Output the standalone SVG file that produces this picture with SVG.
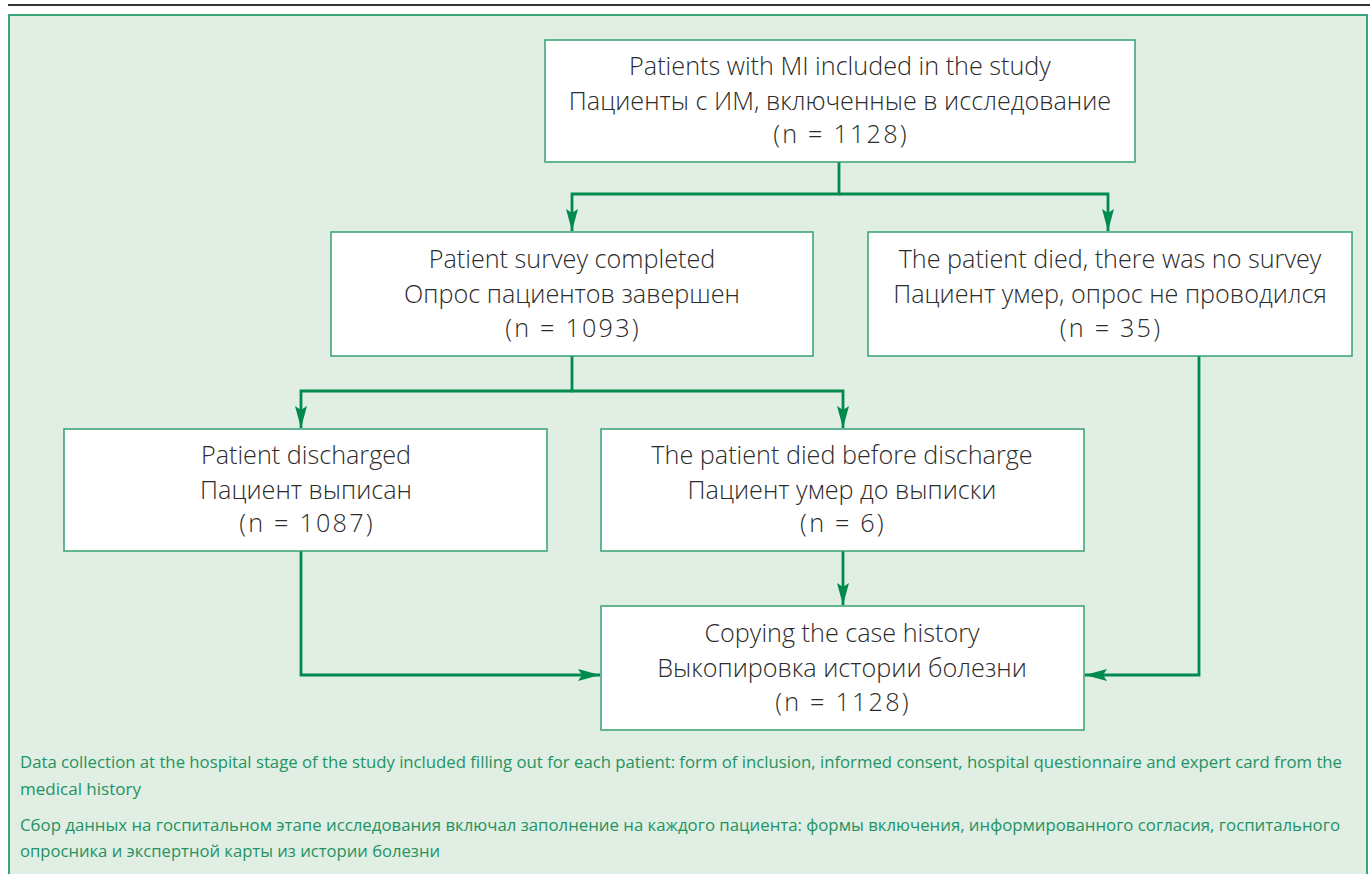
<svg xmlns="http://www.w3.org/2000/svg" width="1370" height="874" viewBox="0 0 1370 874">
<defs>
<style>
.box{fill:#ffffff;stroke:#35a070;stroke-width:1.5}
.t{font-family:"Open Sans","Liberation Sans",sans-serif;font-weight:300;font-size:25.2px;fill:#2b2b2b;text-anchor:middle}
.n{letter-spacing:2.2px}
.c{fill:none;stroke:#008a4e;stroke-width:2.8}
.f{font-family:"Open Sans","Liberation Sans",sans-serif;font-size:16px;fill:#1f9362}
</style>
<marker id="ah" viewBox="0 0 22 12" refX="22" refY="6" markerWidth="22" markerHeight="12" markerUnits="userSpaceOnUse" orient="auto">
<path d="M0,0 L22,6 L0,12 L4,6 Z" fill="#008a4e"/>
</marker>
</defs>
<rect width="1370" height="874" fill="#ffffff"/>
<line x1="8" y1="5" x2="1370" y2="5" stroke="#333" stroke-width="2"/>
<rect x="9" y="15" width="1358" height="870" fill="#e0eee4" stroke="#3aa577" stroke-width="2"/>

<g id="connectors">
<path class="c" d="M839,162 V194 H572 V231" marker-end="url(#ah)"/>
<path class="c" d="M839,194 H1108 V231" marker-end="url(#ah)"/>
<path class="c" d="M572,356 V391 H301 V428" marker-end="url(#ah)"/>
<path class="c" d="M572,391 H843 V428" marker-end="url(#ah)"/>
<path class="c" d="M843,551 V605" marker-end="url(#ah)"/>
<path class="c" d="M301,551 V675 H600" marker-end="url(#ah)"/>
<path class="c" d="M1199,356 V675 H1085" marker-end="url(#ah)"/>
</g>

<g id="n1">
<rect class="box" x="545" y="40" width="590" height="122"/>
<text class="t" x="840" y="75">Patients with MI included in the study</text>
<text class="t" x="840" y="110">Пациенты с ИМ, включенные в исследование</text>
<text class="t n" x="841" y="143">(n = 1128)</text>
</g>
<g id="n2">
<rect class="box" x="331" y="232" width="482" height="124"/>
<text class="t" x="572" y="268">Patient survey completed</text>
<text class="t" x="572" y="303">Опрос пациентов завершен</text>
<text class="t n" x="573" y="337">(n = 1093)</text>
</g>
<g id="n3">
<rect class="box" x="868" y="232" width="484" height="124"/>
<text class="t" x="1110" y="268">The patient died, there was no survey</text>
<text class="t" x="1110" y="303">Пациент умер, опрос не проводился</text>
<text class="t n" x="1111" y="337">(n = 35)</text>
</g>
<g id="n4">
<rect class="box" x="64" y="429" width="483" height="122"/>
<text class="t" x="306" y="464">Patient discharged</text>
<text class="t" x="306" y="499">Пациент выписан</text>
<text class="t n" x="307" y="532">(n = 1087)</text>
</g>
<g id="n5">
<rect class="box" x="601" y="429" width="483" height="122"/>
<text class="t" x="842" y="464">The patient died before discharge</text>
<text class="t" x="842" y="499">Пациент умер до выписки</text>
<text class="t n" x="843" y="532">(n = 6)</text>
</g>
<g id="n6">
<rect class="box" x="601" y="606" width="483" height="124"/>
<text class="t" x="842" y="642">Copying the case history</text>
<text class="t" x="842" y="677">Выкопировка истории болезни</text>
<text class="t n" x="843" y="711">(n = 1128)</text>
</g>

<g id="footer">
<text class="f" x="20" y="768" textLength="1322" lengthAdjust="spacingAndGlyphs">Data collection at the hospital stage of the study included filling out for each patient: form of inclusion, informed consent, hospital questionnaire and expert card from the</text>
<text class="f" x="20" y="795" textLength="121" lengthAdjust="spacingAndGlyphs">medical history</text>
<text class="f" x="20" y="831" textLength="1320" lengthAdjust="spacingAndGlyphs">Сбор данных на госпитальном этапе исследования включал заполнение на каждого пациента: формы включения, информированного согласия, госпитального</text>
<text class="f" x="20" y="857" textLength="420" lengthAdjust="spacingAndGlyphs">опросника и экспертной карты из истории болезни</text>
</g>
</svg>
